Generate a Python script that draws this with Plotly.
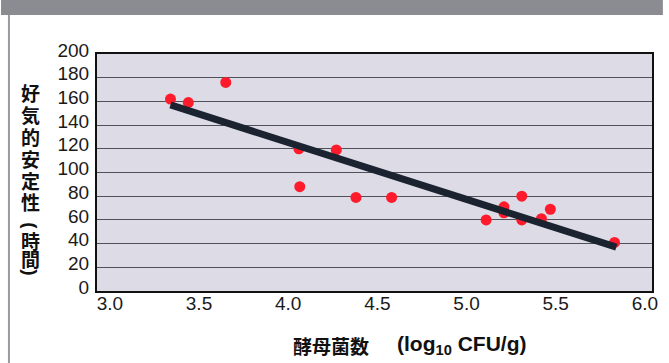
import plotly.graph_objects as go

# Yeast count (log10 CFU/g) vs aerobic stability (hours)
yeast_log = [3.34, 3.44, 3.65, 4.06, 4.27, 4.065, 4.38, 4.58,
             5.11, 5.21, 5.21, 5.31, 5.31, 5.42, 5.47, 5.83]
stability_h = [162, 159, 176, 120, 119, 88, 79, 79,
               60, 71, 66, 80, 60, 61, 69, 41]

# Regression line end points
trend_x = [3.34, 5.84]
trend_y = [157, 37]

x_ticks = [3.0, 3.5, 4.0, 4.5, 5.0, 5.5, 6.0]
y_ticks = list(range(0, 201, 20))

y_title_chars = ["好", "気", "的", "安", "定", "性", "(", "時", "間", ")"]
x_title_main = "酵母菌数"
x_title_unit = "(log<sub>10</sub> CFU/g)"

W, H = 669, 363
M_L, M_R, M_T, M_B = 97, 11, 54, 72
PW = W - M_L - M_R
PH = H - M_T - M_B


def px_x(px):
    return (px - M_L) / PW


def px_y(py):
    return (H - M_B - py) / PH


CJK = "Noto Sans CJK JP"
LATIN = "Liberation Sans, Arial, sans-serif"

fig = go.Figure()

fig.add_trace(go.Scatter(
    x=yeast_log, y=stability_h, mode="markers",
    marker=dict(color="#ff1a2c", size=11, line=dict(width=0)),
    hoverinfo="x+y", showlegend=False,
))

fig.add_trace(go.Scatter(
    x=trend_x, y=trend_y, mode="lines",
    line=dict(color="#1b2230", width=7),
    hoverinfo="skip", showlegend=False,
))

fig.update_layout(
    width=W, height=H,
    margin=dict(l=M_L, r=M_R, t=M_T, b=M_B, pad=0),
    paper_bgcolor="white",
    plot_bgcolor="#dcdbe6",
    font=dict(family=LATIN, color="#1a1a1a"),
    showlegend=False,
)

fig.update_xaxes(
    range=[2.928, 6.04],
    tickvals=x_ticks, ticktext=[f"{v:.1f}" for v in x_ticks],
    showgrid=False, zeroline=False,
    showline=True, linecolor="#111111", linewidth=2, mirror=True,
    ticks="", ticklabelstandoff=-6,
    tickfont=dict(family=LATIN, size=19, color="#1a1a1a"),
)

fig.update_yaxes(
    range=[0, 200],
    tickvals=y_ticks,
    showgrid=True, gridcolor="#505058", gridwidth=1,
    zeroline=False,
    showline=True, linecolor="#111111", linewidth=2, mirror=True,
    ticks="", ticklabelstandoff=2, ticklabelshift=-4,
    tickfont=dict(family=LATIN, size=19, color="#1a1a1a"),
)

shapes = [
    # dark band along the top edge
    dict(type="rect", xref="paper", yref="paper",
         x0=px_x(0), x1=px_x(W), y0=px_y(15), y1=px_y(0),
         fillcolor="#8b8b92", line=dict(width=0), layer="above"),
    # thin grey rule on the left edge
    dict(type="line", xref="paper", yref="paper",
         x0=px_x(8), x1=px_x(8), y0=px_y(15), y1=px_y(H),
         line=dict(color="#9a9aa0", width=2)),
]

annotations = []
# vertical y-axis title, one character per row; brackets turned upright
char_y = [92, 114, 136.5, 158.5, 180, 202, 226, 240, 258, 272]
for ch, cy in zip(y_title_chars, char_y):
    is_bracket = ch in "()"
    annotations.append(dict(
        text=ch, xref="paper", yref="paper",
        x=px_x(30), y=px_y(cy), xanchor="center", yanchor="middle",
        showarrow=False, textangle=90 if is_bracket else 0,
        borderpad=0,
        font=dict(family=LATIN if is_bracket else CJK, size=19,
                  color="#111111", weight=700),
    ))

annotations.append(dict(
    text=x_title_main, xref="paper", yref="paper",
    x=px_x(334), y=px_y(345), xanchor="center", yanchor="middle",
    showarrow=False,
    font=dict(family=CJK, size=19, color="#111111", weight=700),
))
annotations.append(dict(
    text=x_title_unit, xref="paper", yref="paper",
    x=px_x(465), y=px_y(345), xanchor="center", yanchor="middle",
    showarrow=False,
    font=dict(family=LATIN, size=21, color="#111111", weight=700),
))

fig.update_layout(shapes=shapes, annotations=annotations)

fig.write_html("out.html")
